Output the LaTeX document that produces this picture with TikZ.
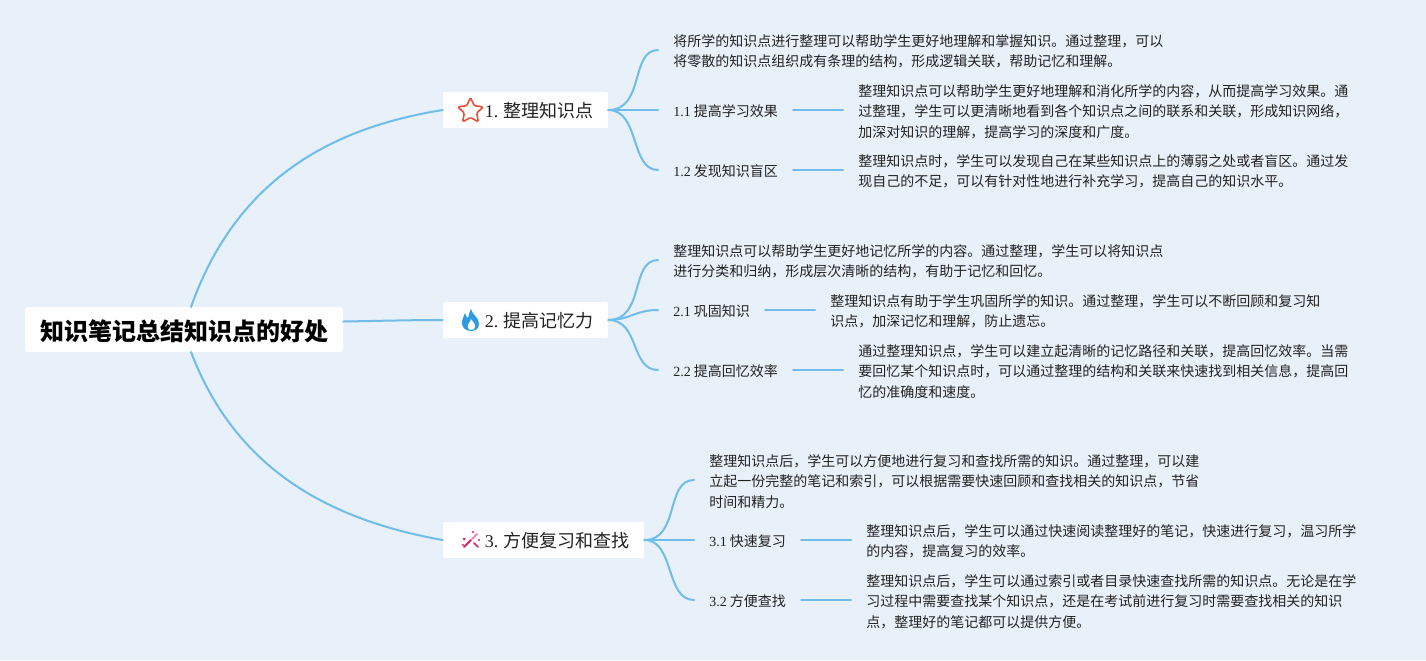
\documentclass[tikz,border=0pt]{standalone}
\usepackage{fontspec}
\usetikzlibrary{shapes.geometric}
\setmainfont{Noto Sans CJK SC}
\newfontfamily\latf{Liberation Serif}
\newcommand{\lat}[1]{{\latf #1}}
\newcommand{\ys}{1.125pt}
\definecolor{bgc}{HTML}{E8F0F9}
\definecolor{linec}{HTML}{6FBDE8}
\definecolor{txtc}{HTML}{222222}
\definecolor{starc}{HTML}{E8503A}
\definecolor{firec}{HTML}{2D9BE0}
\definecolor{wandc}{HTML}{E91E63}
\tikzset{
  x=0.75pt,y=-0.75pt,
  rootbox/.style={fill=white,rounded corners=2pt,minimum width=238.5pt,minimum height=33.75pt,inner sep=0pt,text height=17pt,text depth=0pt,font=\fontsize{18}{22}\selectfont\bfseries,text=black},
  topic/.style={fill=white,rounded corners=1pt,minimum height=27pt,inner xsep=11.25pt,inner ysep=0pt,align=right,text height=11.8pt,text depth=0pt,font=\fontsize{13.5}{16}\selectfont,text=txtc},
  lab/.style={anchor=west,inner xsep=11.25pt,inner ysep=0pt,align=left,font=\fontsize{10.5}{15.4}\selectfont,text=txtc},
  link/.style={draw=linec,line width=1.5pt,line cap=round},
}
\begin{document}
\begin{tikzpicture}
\useasboundingbox (0,0) rectangle (1426,660);
\fill[bgc] (0,0) rectangle (1426,660);
% main nodes
\node[rootbox] (root) at (184,329.5) {知识笔记总结知识点的好处};
\node[topic,text width=101.25pt] (t1) at (525.5,110) {\lat{1.}\hspace{3.4pt}整理知识点};
\node[topic,text width=101.25pt] (t2) at (525.5,320) {\lat{2.}\hspace{3.4pt}提高记忆力};
\node[topic,text width=128.25pt] (t3) at (543.5,540) {\lat{3.}\hspace{3.4pt}方便复习和查找};
% anchors on the root
\coordinate (rt) at (191,307);
\coordinate (rb) at (191,352);
% branch 1
\node[lab] (a0) at (658,51.5) {将所学的知识点进行整理可以帮助学生更好地理解和掌握知识。通过整理，可以\\将零散的知识点组织成有条理的结构，形成逻辑关联，帮助记忆和理解。};
\node[lab] (a1) at (658,111.5) {\lat{1.1} 提高学习效果};
\node[lab] (a1d) at (843,111.5) {整理知识点可以帮助学生更好地理解和消化所学的内容，从而提高学习效果。通\\过整理，学生可以更清晰地看到各个知识点之间的联系和关联，形成知识网络，\\加深对知识的理解，提高学习的深度和广度。};
\node[lab] (a2) at (658,171.5) {\lat{1.2} 发现知识盲区};
\node[lab] (a2d) at (843,171.5) {整理知识点时，学生可以发现自己在某些知识点上的薄弱之处或者盲区。通过发\\现自己的不足，可以有针对性地进行补充学习，提高自己的知识水平。};
% branch 2
\node[lab] (b0) at (658,261.5) {整理知识点可以帮助学生更好地记忆所学的内容。通过整理，学生可以将知识点\\进行分类和归纳，形成层次清晰的结构，有助于记忆和回忆。};
\node[lab] (b1) at (658,311.5) {\lat{2.1} 巩固知识};
\node[lab] (b1d) at (815,311.5) {整理知识点有助于学生巩固所学的知识。通过整理，学生可以不断回顾和复习知\\识点，加深记忆和理解，防止遗忘。};
\node[lab] (b2) at (658,371.5) {\lat{2.2} 提高回忆效率};
\node[lab] (b2d) at (843,371.5) {通过整理知识点，学生可以建立起清晰的记忆路径和关联，提高回忆效率。当需\\要回忆某个知识点时，可以通过整理的结构和关联来快速找到相关信息，提高回\\忆的准确度和速度。};
% branch 3
\node[lab] (c0) at (694,481.5) {整理知识点后，学生可以方便地进行复习和查找所需的知识。通过整理，可以建\\立起一份完整的笔记和索引，可以根据需要快速回顾和查找相关的知识点，节省\\时间和精力。};
\node[lab] (c1) at (694,541.5) {\lat{3.1} 快速复习};
\node[lab] (c1d) at (851,541.5) {整理知识点后，学生可以通过快速阅读整理好的笔记，快速进行复习，温习所学\\的内容，提高复习的效率。};
\node[lab] (c2) at (694,601.5) {\lat{3.2} 方便查找};
\node[lab] (c2d) at (851,601.5) {整理知识点后，学生可以通过索引或者目录快速查找所需的知识点。无论是在学\\习过程中需要查找某个知识点，还是在考试前进行复习时需要查找相关的知识\\点，整理好的笔记都可以提供方便。};
% connectors from root
\draw[link] (rt) .. controls (236,180) and (330,128) .. (t1.west);
\draw[link] ([yshift=6pt]root.east) .. controls (375,321) and (410,320) .. (t2.west);
\draw[link] (rb) .. controls (236,470) and (330,520) .. (t3.west);
% branch connectors
\draw[link] (t1.east) .. controls (645,110) and (630,50) .. ([yshift=\ys]a0.west);
\draw[link] (t1.east) -- ([yshift=\ys]a1.west);
\draw[link] (t1.east) .. controls (640,110) and (630,170) .. ([yshift=\ys]a2.west);
\draw[link] ([yshift=\ys]a1.east) -- ([yshift=\ys]a1d.west);
\draw[link] ([yshift=\ys]a2.east) -- ([yshift=\ys]a2d.west);
\draw[link] (t2.east) .. controls (645,320) and (630,260) .. ([yshift=\ys]b0.west);
\draw[link] (t2.east) .. controls (630,320) and (635,310) .. ([yshift=\ys]b1.west);
\draw[link] (t2.east) .. controls (640,320) and (630,370) .. ([yshift=\ys]b2.west);
\draw[link] ([yshift=\ys]b1.east) -- ([yshift=\ys]b1d.west);
\draw[link] ([yshift=\ys]b2.east) -- ([yshift=\ys]b2d.west);
\draw[link] (t3.east) .. controls (680,540) and (665,480) .. ([yshift=\ys]c0.west);
\draw[link] (t3.east) -- ([yshift=\ys]c1.west);
\draw[link] (t3.east) .. controls (675,540) and (665,600) .. ([yshift=\ys]c2.west);
\draw[link] ([yshift=\ys]c1.east) -- ([yshift=\ys]c1d.west);
\draw[link] ([yshift=\ys]c2.east) -- ([yshift=\ys]c2d.west);
% icons
\node[star,star points=5,star point ratio=2.05,draw=starc,line width=1.2pt,rounded corners=1pt,fill=white,minimum size=20pt,inner sep=0pt] (ic1) at (470.5,111) {};
\fill[firec] (471,309) .. controls (472,315) and (479,317) .. (479,324) .. controls (479,329) and (475,331) .. (471,331)
  .. controls (466,331) and (462,328) .. (462,323) .. controls (462,319) and (464,316) .. (465,313) .. controls (466,316) and (467,318) .. (468,318) .. controls (469,315) and (469,312) .. (471,309) -- cycle;
\fill[white] (471,330) .. controls (467,330) and (467,325) .. (469,323) .. controls (470,322) and (471,320) .. (471,319) .. controls (473,322) and (476,325) .. (475,327) .. controls (475,329) and (473,330) .. (471,330) -- cycle;
\draw[wandc,line width=1.5pt,line cap=round] (464,547) -- (471,540);
\draw[wandc!60!white,line width=1.2pt,line cap=round] (472,539) -- (477,534);
\draw[wandc,line width=1.2pt,line cap=round] (474,543) -- (478,547);
\fill[wandc] (464,539) circle (1.5) (473,532) circle (1.2) (479,540) circle (1.2) (463,545) circle (1.2);
\end{tikzpicture}
\end{document}
